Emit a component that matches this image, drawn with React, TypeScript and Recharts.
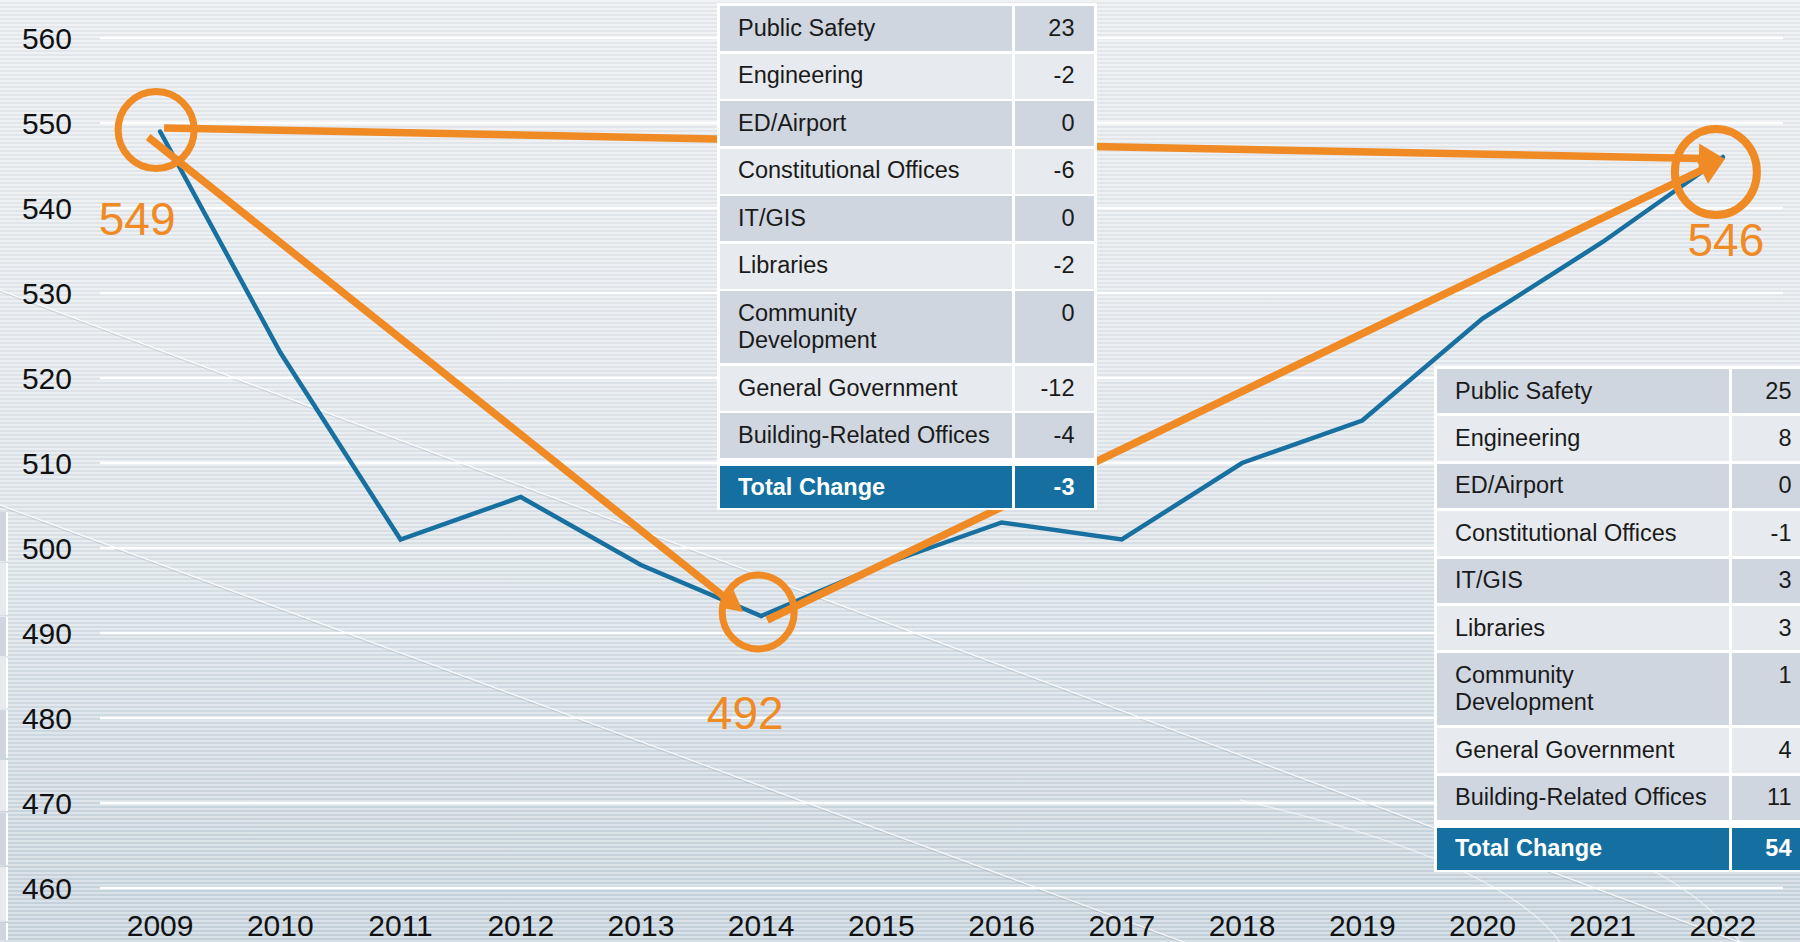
import React from 'react';
import {
  LineChart,
  Line,
  XAxis,
  YAxis,
  CartesianGrid,
  ReferenceLine,
  ReferenceDot,
} from 'recharts';

// ---------- data ----------
const years = [2009, 2010, 2011, 2012, 2013, 2014, 2015, 2016, 2017, 2018, 2019, 2020, 2021, 2022];
const headcount = [549, 523, 501, 506, 498, 492, 498, 503, 501, 510, 515, 527, 536, 546];
const yTicks = [460, 470, 480, 490, 500, 510, 520, 530, 540, 550, 560];

const departments = [
  'Public Safety',
  'Engineering',
  'ED/Airport',
  'Constitutional Offices',
  'IT/GIS',
  'Libraries',
  'Community Development',
  'General Government',
  'Building-Related Offices',
];
const change2009to2014 = [23, -2, 0, -6, 0, -2, 0, -12, -4];
const change2014to2022 = [25, 8, 0, -1, 3, 3, 1, 4, 11];
const totalLabel = 'Total Change';
const total2009to2014 = -3;
const total2014to2022 = 54;

const milestoneYears = [2009, 2014, 2022];
const trendArrows: [number, number][] = [
  [2009, 2014],
  [2014, 2022],
  [2009, 2022],
];

// ---------- styling ----------
const FONT = '"Liberation Sans", Arial, Helvetica, sans-serif';
const ORANGE = '#f08a24';
const BLUE = '#17709f';
const DARK_ROW = '#cfd6e0';
const LIGHT_ROW = '#e7eaee';
const TOTAL_BG = '#1570a1';

const chartData = years.map((year, i) => ({ year, headcount: headcount[i] }));
const valueAt = (y: number) => headcount[years.indexOf(y)];

// pixel nudges (style only)
const circleStyles = [
  { dx: -4, dy: -1.5, rx: 38, ry: 38.5, sw: 7 },
  { dx: -3, dy: -4, rx: 36, ry: 37, sw: 7 },
  { dx: -7, dy: 15, rx: 41, ry: 43, sw: 8 },
];
const labelStyles = [
  { dx: -23, dy: 103 },
  { dx: -16, dy: 113 },
  { dx: 3, dy: 99 },
];
const arrowStyles = [
  { sx: -12, sy: 5.5, ex: -18, ey: -4, head: 21, half: 11 },
  { sx: 6, sy: 4, ex: 2, ey: 2, head: 26, half: 15 },
  { sx: 4, sy: -3.5, ex: 2, ey: 2, head: 26, half: 15 },
];

const makeArrowShape = (o: any) => (props: any) => {
  const x1 = props.x1 + o.sx;
  const y1 = props.y1 + o.sy;
  const x2 = props.x2 + o.ex;
  const y2 = props.y2 + o.ey;
  const ang = Math.atan2(y2 - y1, x2 - x1);
  const bx = x2 - o.head * Math.cos(ang);
  const by = y2 - o.head * Math.sin(ang);
  const px = -Math.sin(ang) * o.half;
  const py = Math.cos(ang) * o.half;
  return (
    <g>
      <line x1={x1} y1={y1} x2={bx + Math.cos(ang) * 2} y2={by + Math.sin(ang) * 2} stroke={ORANGE} strokeWidth={7.5} />
      <polygon points={`${x2},${y2} ${bx + px},${by + py} ${bx - px},${by - py}`} fill={ORANGE} />
    </g>
  );
};

const makeCircleShape = (i: number, text: string) => (props: any) => {
  const c = circleStyles[i];
  const l = labelStyles[i];
  const cx = props.cx;
  const cy = props.cy;
  return (
    <g>
      <ellipse cx={cx + c.dx} cy={cy + c.dy} rx={c.rx} ry={c.ry} fill="none" stroke={ORANGE} strokeWidth={c.sw} />
      <text x={cx + l.dx} y={cy + l.dy} textAnchor="middle" fill={ORANGE} fontSize={46} fontFamily={FONT}>
        {text}
      </text>
    </g>
  );
};

// ---------- table ----------
function ChangeTable(props: {
  left: number;
  top: number;
  labels: string[];
  values: number[];
  total: number;
  pad: number;
  gap: number;
  totalGap: number;
}) {
  const { left, top, labels, values, total, pad, gap, totalGap } = props;
  const cellText: React.CSSProperties = {
    fontFamily: FONT,
    fontSize: 23.5,
    lineHeight: '27.4px',
    color: '#1a1a1a',
  };
  return (
    <div
      style={{
        position: 'absolute',
        left,
        top,
        background: '#ffffff',
        padding: 3,
        paddingBottom: 2,
        display: 'flex',
        flexDirection: 'column',
        gap,
      }}
    >
      {labels.map((lab, i) => (
        <div key={lab} style={{ display: 'flex', gap: 2.5 }}>
          <div
            style={{
              ...cellText,
              width: 292,
              boxSizing: 'border-box',
              padding: `${pad}px 0 ${pad}px 18px`,
              background: i % 2 === 0 ? DARK_ROW : LIGHT_ROW,
            }}
          >
            <div style={{ maxWidth: 258 }}>{lab}</div>
          </div>
          <div
            style={{
              ...cellText,
              width: 79,
              boxSizing: 'border-box',
              padding: `${pad}px 19px 0 0`,
              textAlign: 'right',
              background: i % 2 === 0 ? DARK_ROW : LIGHT_ROW,
            }}
          >
            {values[i]}
          </div>
        </div>
      ))}
      <div style={{ display: 'flex', gap: 2.5, marginTop: totalGap }}>
        <div
          style={{
            ...cellText,
            color: '#ffffff',
            fontWeight: 700,
            width: 292,
            boxSizing: 'border-box',
            padding: '7.3px 0 7.3px 18px',
            background: TOTAL_BG,
          }}
        >
          {totalLabel}
        </div>
        <div
          style={{
            ...cellText,
            color: '#ffffff',
            fontWeight: 700,
            width: 79,
            boxSizing: 'border-box',
            padding: '7.3px 19px 0 0',
            textAlign: 'right',
            background: TOTAL_BG,
          }}
        >
          {total}
        </div>
      </div>
    </div>
  );
}

// left-edge partial element (cut off by the slide edge)
const edgeRows = [512, 563, 617, 658, 710, 760, 813, 867, 923, 942];

export default function App() {
  return (
    <div
      style={{
        position: 'fixed',
        left: 0,
        top: 0,
        width: 1800,
        height: 942,
        overflow: 'hidden',
        backgroundColor: '#dde3e8',
        backgroundImage:
          'repeating-linear-gradient(180deg, rgba(255,255,255,0.32) 0px, rgba(255,255,255,0.32) 2px, rgba(120,140,160,0.05) 2px, rgba(120,140,160,0.05) 4px), linear-gradient(180deg, #e9ecef 0%, #e5e9ed 35%, #dce3e8 60%, #cfdae2 82%, #c6d3dc 100%)',
      }}
    >
      <svg width={1800} height={942} style={{ position: 'absolute', left: 0, top: 0 }}>
        <line x1={0} y1={290} x2={1800} y2={965} stroke="rgba(255,255,255,0.75)" strokeWidth={1.3} />
        <line x1={0} y1={291.5} x2={1800} y2={966.5} stroke="rgba(140,150,160,0.3)" strokeWidth={1} />
        <line x1={0} y1={505} x2={1200} y2={948} stroke="rgba(255,255,255,0.75)" strokeWidth={1.3} />
        <line x1={0} y1={506.5} x2={1200} y2={949.5} stroke="rgba(140,150,160,0.3)" strokeWidth={1} />
        <path d="M 1240 800 Q 1500 860 1560 942" fill="none" stroke="rgba(255,255,255,0.6)" strokeWidth={1.3} />
        <path d="M 1630 860 Q 1700 890 1740 942" fill="none" stroke="rgba(255,255,255,0.6)" strokeWidth={1.3} />
      </svg>

      <div style={{ position: 'absolute', left: 0, top: 0 }}>
        <LineChart width={1800} height={942} data={chartData} margin={{ top: 38, right: 17, bottom: 0, left: 0 }}>
          <CartesianGrid horizontal vertical={false} stroke="#ffffff" strokeWidth={2.5} />
          <XAxis
            dataKey="year"
            type="number"
            domain={[2008.5, 2022.5]}
            ticks={years}
            interval={0}
            height={54}
            axisLine={false}
            tickLine={false}
            tickSize={0}
            tickMargin={27}
            tick={{ fill: '#111111', fontSize: 30, fontFamily: FONT }}
          />
          <YAxis
            type="number"
            domain={[460, 560]}
            ticks={yTicks}
            interval={0}
            width={100}
            axisLine={false}
            tickLine={false}
            tickSize={0}
            tickMargin={28}
            tick={{ fill: '#111111', fontSize: 30, fontFamily: FONT }}
          />
          <Line
            type="linear"
            dataKey="headcount"
            stroke={BLUE}
            strokeWidth={4.5}
            strokeLinecap="round"
            dot={false}
            activeDot={false}
            isAnimationActive={false}
          />
          {trendArrows.map(([a, b], i) => (
            <ReferenceLine
              key={`arrow-${i}`}
              segment={[
                { x: a, y: valueAt(a) },
                { x: b, y: valueAt(b) },
              ]}
              ifOverflow="visible"
              shape={makeArrowShape(arrowStyles[i])}
            />
          ))}
          {milestoneYears.map((yr, i) => (
            <ReferenceDot
              key={`dot-${yr}`}
              x={yr}
              y={valueAt(yr)}
              r={38}
              ifOverflow="visible"
              shape={makeCircleShape(i, String(valueAt(yr)))}
            />
          ))}
        </LineChart>
      </div>

      <div style={{ position: 'absolute', left: 0, top: edgeRows[0], width: 9, height: 942 - edgeRows[0] }}>
        {edgeRows.slice(0, -1).map((y, i) => (
          <div
            key={y}
            style={{
              position: 'absolute',
              left: 0,
              top: y - edgeRows[0],
              width: 6,
              height: edgeRows[i + 1] - y - 2,
              background: i % 2 === 0 ? DARK_ROW : LIGHT_ROW,
              borderRight: '2px solid #ffffff',
            }}
          />
        ))}
      </div>

      <ChangeTable left={717} top={3} labels={departments} values={change2009to2014} total={total2009to2014} pad={8.8} gap={2.5} totalGap={5.5} />
      <ChangeTable left={1434} top={366} labels={departments} values={change2014to2022} total={total2014to2022} pad={8.5} gap={3} totalGap={4.7} />
    </div>
  );
}
